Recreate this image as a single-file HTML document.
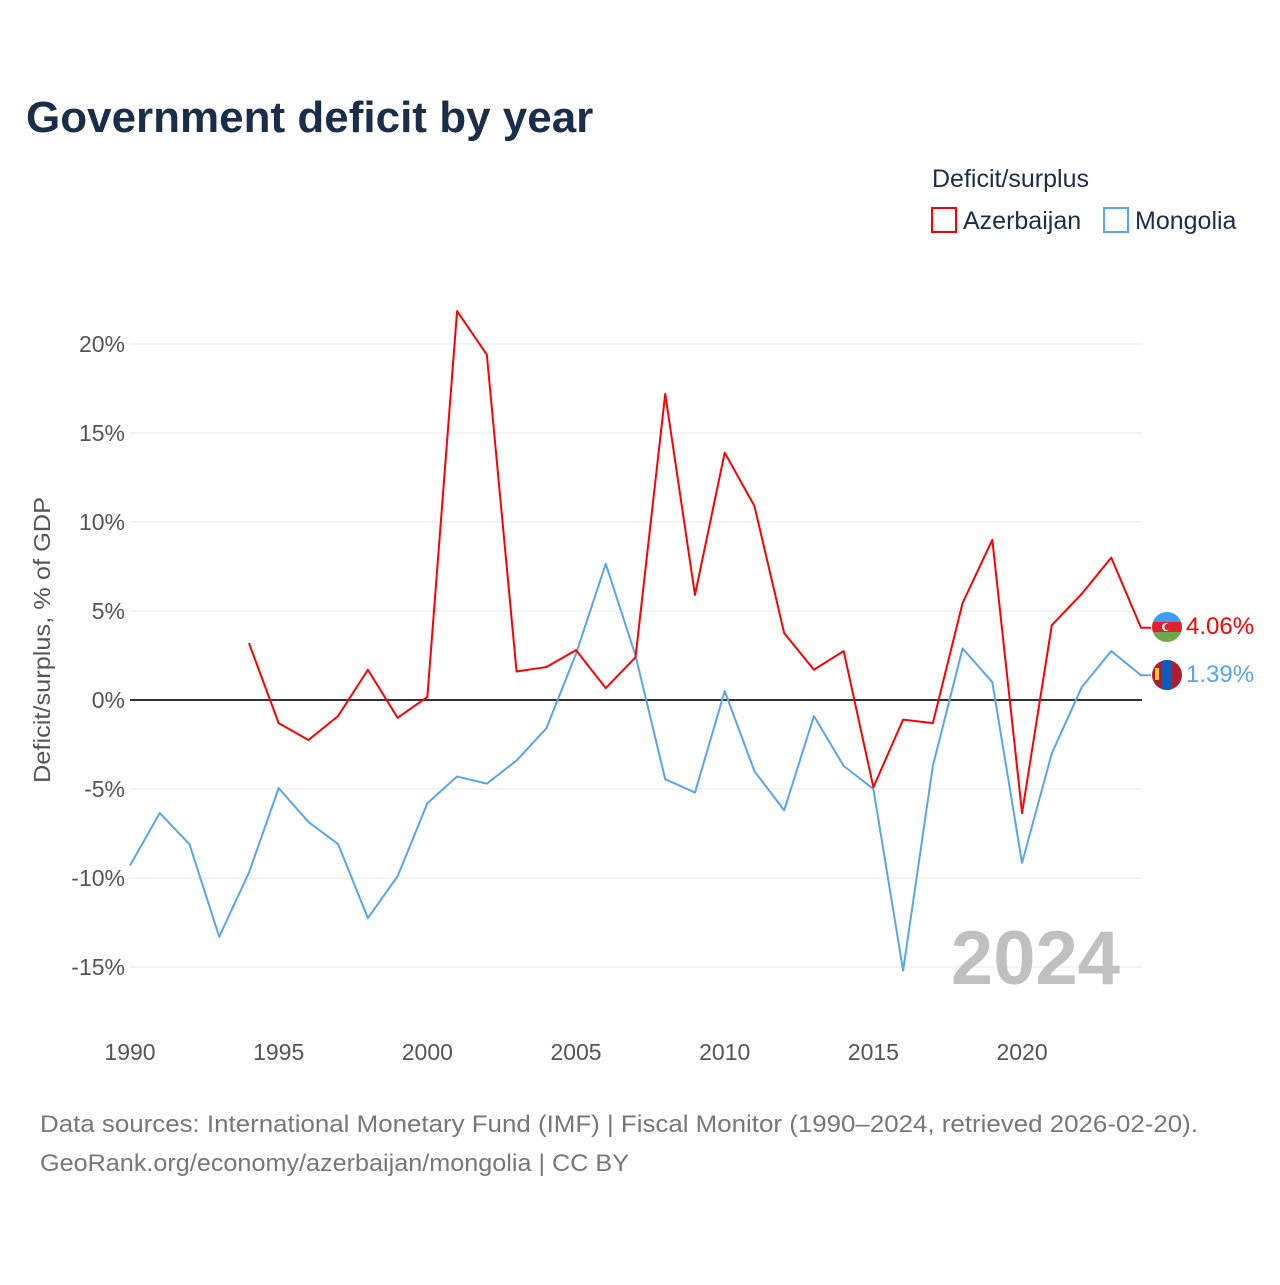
<!DOCTYPE html>
<html><head><meta charset="utf-8"><style>
body{margin:0;background:#fff;font-family:"Liberation Sans",sans-serif}
svg text{font-family:"Liberation Sans",sans-serif}
</style></head><body>
<svg width="1280" height="1280" xmlns="http://www.w3.org/2000/svg">
<text x="26" y="132" font-size="44" font-weight="bold" fill="#1a2e4a">Government deficit by year</text>
<text x="932" y="187" font-size="25" fill="#1a2e4a">Deficit/surplus</text>
<g><rect x="932" y="208" width="24" height="24" fill="none" stroke="#ff0000" stroke-width="2"/><text x="963" y="229" font-size="25" fill="#1a2e4a">Azerbaijan</text></g>
<g><rect x="1104" y="208" width="24" height="24" fill="none" stroke="#5aa5e8" stroke-width="2"/><text x="1135" y="229" font-size="25" fill="#1a2e4a">Mongolia</text></g>
<g id="grid"></g><g id="axes"></g><g id="lines"></g>
<text x="1120" y="984" font-size="76" font-weight="bold" fill="#c0c0c0" text-anchor="end">2024</text>
<text transform="translate(50,640) rotate(-90)" font-size="23" fill="#555" text-anchor="middle" textLength="286" lengthAdjust="spacingAndGlyphs">Deficit/surplus, % of GDP</text>
<g>
<clipPath id="ca"><circle cx="1167" cy="627" r="15"/></clipPath>
<g clip-path="url(#ca)"><rect x="1150" y="610" width="34" height="12" fill="#3f9cf0"/><rect x="1150" y="622" width="34" height="10" fill="#e0202e"/><rect x="1150" y="632" width="34" height="12" fill="#6fa84a"/></g>
<circle cx="1166" cy="627" r="4" fill="#fff"/><circle cx="1167.5" cy="627" r="3.2" fill="#e0202e"/></g>
<g>
<clipPath id="cm"><circle cx="1167" cy="675" r="15"/></clipPath>
<g clip-path="url(#cm)"><rect x="1150" y="658" width="34" height="34" fill="#b01d2e"/><rect x="1162" y="658" width="10" height="34" fill="#0a5bbd"/></g>
<rect x="1155" y="668" width="4" height="12" fill="#f5c830"/></g>
<text x="1186" y="634" font-size="24" fill="#ff0000">4.06%</text>
<text x="1186" y="682" font-size="24" fill="#5aa5e8">1.39%</text>
<text x="40" y="1132" font-size="24" fill="#777" textLength="1158" lengthAdjust="spacingAndGlyphs">Data sources: International Monetary Fund (IMF) | Fiscal Monitor (1990–2024, retrieved 2026-02-20).</text>
<text x="40" y="1171" font-size="24" fill="#777" textLength="589" lengthAdjust="spacingAndGlyphs">GeoRank.org/economy/azerbaijan/mongolia | CC BY</text>
</svg>
<script>
const yTicks=[20,15,10,5,0,-5,-10,-15];
const yTickLabels=["20%","15%","10%","5%","0%","-5%","-10%","-15%"];
const xTicks=[1990,1995,2000,2005,2010,2015,2020];
const azYears=[1994,1995,1996,1997,1998,1999,2000,2001,2002,2003,2004,2005,2006,2007,2008,2009,2010,2011,2012,2013,2014,2015,2016,2017,2018,2019,2020,2021,2022,2023,2024];
const azValues=[3.2,-1.3,-2.25,-0.9,1.7,-1.0,0.17,21.85,19.4,1.6,1.85,2.8,0.67,2.4,17.2,5.9,13.9,10.9,3.76,1.7,2.75,-4.9,-1.1,-1.3,5.45,9.0,-6.35,4.2,5.95,8.0,4.06];
const mnYears=[1990,1991,1992,1993,1994,1995,1996,1997,1998,1999,2000,2001,2002,2003,2004,2005,2006,2007,2008,2009,2010,2011,2012,2013,2014,2015,2016,2017,2018,2019,2020,2021,2022,2023,2024];
const mnValues=[-9.3,-6.35,-8.1,-13.3,-9.7,-4.95,-6.85,-8.1,-12.25,-9.9,-5.8,-4.3,-4.7,-3.4,-1.6,2.6,7.65,2.5,-4.45,-5.2,0.5,-4.0,-6.2,-0.9,-3.7,-5.0,-15.2,-3.7,2.9,1.0,-9.15,-3.0,0.7,2.75,1.39];
const NS="http://www.w3.org/2000/svg";
const X=y=>130+(y-1990)*(1141-130)/34;
const Y=v=>700-v*17.8;
function mk(t,a,p){const e=document.createElementNS(NS,t);for(const k in a)e.setAttribute(k,a[k]);document.getElementById(p).appendChild(e);return e;}
yTicks.forEach((v,i)=>{
 const l=mk('line',{x1:130,x2:1142,y1:Y(v),y2:Y(v),stroke:v===0?'#333':'#e8e8e8','stroke-width':v===0?2:1},'grid');
 
 
 const t=mk('text',{x:125,y:Y(v)+8,'font-size':23,fill:'#555','text-anchor':'end'},'axes');
 t.textContent=yTickLabels[i];
 
 
});
xTicks.forEach(y=>{
 const t=mk('text',{x:X(y),y:1060,'font-size':23,fill:'#555','text-anchor':'middle'},'axes');
 t.textContent=y;
 
 
});
function line(ys,vs,c,n){
 const last=vs[vs.length-1];
 const pts=ys.map((y,i)=>X(y)+','+Y(vs[i]));
 pts.push((X(ys[ys.length-1])+10)+','+Y(last));
 const p=mk('polyline',{points:pts.join(' '),fill:'none',stroke:c,'stroke-width':2,'stroke-linejoin':'round'},'lines');
 
 
}
line(mnYears,mnValues,'#5aa5e8','line-mongolia');
line(azYears,azValues,'#ff0000','line-azerbaijan');
</script>
</body></html>
